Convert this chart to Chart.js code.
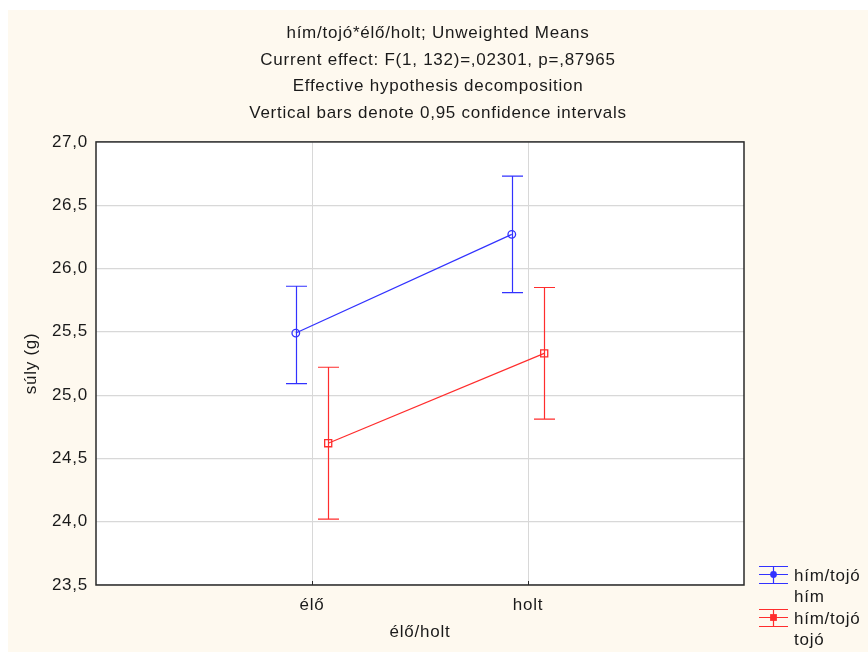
<!DOCTYPE html>
<html>
<head>
<meta charset="utf-8">
<script src="https://cdn.jsdelivr.net/npm/chart.js@4/dist/chart.umd.min.js"></script>
<style>
  html, body { margin: 0; padding: 0; background: #ffffff; }
  #wrap { width: 868px; height: 652px; position: relative; }
</style>
</head>
<body>
<div id="wrap"><canvas id="c" width="868" height="652"></canvas></div>
<script>
// ---- data ----
const categories = ['élő', 'holt'];
const seriesNames = ['hím', 'tojó'];
const himMean  = [25.49, 26.27];
const himLower = [25.09, 25.81];
const himUpper = [25.86, 26.73];
const tojoMean  = [24.62, 25.33];
const tojoLower = [24.02, 24.81];
const tojoUpper = [25.22, 25.85];
const titleLines = [
  'hím/tojó*élő/holt; Unweighted Means',
  'Current effect: F(1, 132)=,02301, p=,87965',
  'Effective hypothesis decomposition',
  'Vertical bars denote 0,95 confidence intervals'
];
const yAxisTitle = 'súly (g)';
const xAxisTitle = 'élő/holt';
const legendGroup = 'hím/tojó';

// ---- styling ----
const FONT = 'Arial, "Liberation Sans", sans-serif';
const FS = 17;
const SPACING = '0.75px';
const BLUE = 'rgb(50,50,255)';
const RED = 'rgb(255,45,45)';
const CREAM = '#fef9ef';
const GRID = '#d8d8d8';
const TEXT = '#1a1a1a';
const OFFSET = 0.075;   // horizontal dodge of the two series within a category
const CAP = 10.5;       // half width of error-bar caps in px

function pts(means, dodge) { return means.map((v, i) => ({ x: i + 1 + dodge, y: v })); }

const datasets = [
  { label: seriesNames[0], data: pts(himMean, -OFFSET), lower: himLower, upper: himUpper,
    borderColor: BLUE, backgroundColor: 'rgba(0,0,0,0)', pointBorderColor: BLUE,
    pointStyle: 'circle', pointRadius: 3.8, borderWidth: 1.2, pointBorderWidth: 1.3, showLine: true },
  { label: seriesNames[1], data: pts(tojoMean, OFFSET), lower: tojoLower, upper: tojoUpper,
    borderColor: RED, backgroundColor: 'rgba(0,0,0,0)', pointBorderColor: RED,
    pointStyle: 'rect', pointRadius: 5, borderWidth: 1.2, pointBorderWidth: 1.3, showLine: true }
];

const spacingPlugin = {
  id: 'spacing',
  beforeUpdate(chart) { chart.ctx.letterSpacing = SPACING; },
  beforeDraw(chart) { chart.ctx.letterSpacing = SPACING; }
};

const backgroundPlugin = {
  id: 'bg',
  beforeDraw(chart) {
    const { ctx, chartArea: a } = chart;
    ctx.save();
    ctx.fillStyle = '#ffffff';
    ctx.fillRect(0, 0, chart.width, chart.height);
    ctx.fillStyle = CREAM;
    ctx.fillRect(8, 10, chart.width - 8, chart.height - 10);
    ctx.fillStyle = '#ffffff';
    ctx.fillRect(a.left, a.top, a.right - a.left, a.bottom - a.top);
    ctx.restore();
  }
};

const errorBarPlugin = {
  id: 'errbars',
  beforeDatasetsDraw(chart) {
    const { ctx } = chart;
    const xs = chart.scales.x, ys = chart.scales.y;
    ctx.save();
    chart.data.datasets.forEach(ds => {
      ctx.strokeStyle = ds.borderColor;
      ctx.lineWidth = 1.2;
      ds.data.forEach((p, i) => {
        const x = Math.round(xs.getPixelForValue(p.x)) + 0.5;
        const yl = ys.getPixelForValue(ds.lower[i]);
        const yu = ys.getPixelForValue(ds.upper[i]);
        ctx.beginPath();
        ctx.moveTo(x, yu); ctx.lineTo(x, yl);
        ctx.moveTo(x - CAP, yu); ctx.lineTo(x + CAP, yu);
        ctx.moveTo(x - CAP, yl); ctx.lineTo(x + CAP, yl);
        ctx.stroke();
      });
    });
    ctx.restore();
  },
  afterDatasetsDraw(chart) {
    const { ctx, chartArea: a } = chart;
    ctx.save();
    ctx.strokeStyle = '#2a2a2a';
    ctx.lineWidth = 1.5;
    ctx.strokeRect(a.left, a.top, a.right - a.left, a.bottom - a.top);
    const xs = chart.scales.x;
    ctx.lineWidth = 1;
    categories.forEach((c, i) => {
      const x = Math.round(xs.getPixelForValue(i + 1)) + 0.5;
      ctx.beginPath(); ctx.moveTo(x, a.bottom - 4); ctx.lineTo(x, a.bottom); ctx.stroke();
    });
    ctx.restore();
  }
};

const legendPlugin = {
  id: 'customLegend',
  afterDraw(chart) {
    const { ctx } = chart;
    ctx.save();
    ctx.letterSpacing = SPACING;
    ctx.font = FS + 'px ' + FONT;
    ctx.textBaseline = 'middle';
    ctx.textAlign = 'left';
    const x0 = 759, x1 = 788, xm = 773.5, tx = 794;
    const rows = [575, 618];
    chart.data.datasets.forEach((ds, k) => {
      const y = rows[k];
      ctx.strokeStyle = ds.borderColor;
      ctx.fillStyle = ds.borderColor;
      ctx.lineWidth = 1.2;
      ctx.beginPath();
      ctx.moveTo(x0, y - 8.5); ctx.lineTo(x1, y - 8.5);
      ctx.moveTo(x0, y + 8.5); ctx.lineTo(x1, y + 8.5);
      ctx.moveTo(x0, y - 0.5); ctx.lineTo(x1, y - 0.5);
      ctx.moveTo(xm, y - 8.5); ctx.lineTo(xm, y + 8.5);
      ctx.stroke();
      ctx.beginPath();
      if (ds.pointStyle === 'circle') { ctx.arc(xm, y - 0.5, 3.4, 0, Math.PI * 2); ctx.fill(); }
      else { ctx.fillRect(xm - 3.4, y - 3.9, 6.8, 6.8); }
      ctx.fillStyle = TEXT;
      ctx.fillText(legendGroup, tx, y + 1);
      ctx.fillText(ds.label, tx, y + 22);
    });
    ctx.restore();
  }
};

new Chart(document.getElementById('c'), {
  type: 'scatter',
  data: { datasets },
  options: {
    responsive: false,
    animation: false,
    devicePixelRatio: 1,
    layout: { padding: { left: 8, right: 0, top: 10, bottom: 0 } },
    plugins: {
      legend: { display: false },
      tooltip: { enabled: false },
      title: {
        display: true,
        text: titleLines,
        color: TEXT,
        font: { family: FONT, size: FS, weight: 'normal', lineHeight: 1.565 },
        padding: { top: 10, bottom: 15.5 }
      }
    },
    scales: {
      x: {
        type: 'linear',
        min: 0, max: 3,
        afterFit(s) { s.height = 67; },
        afterBuildTicks(s) { s.ticks = [0, 1, 2, 3].map(v => ({ value: v })); },
        ticks: {
          autoSkip: false,
          maxRotation: 0,
          padding: 10,
          color: TEXT,
          font: { family: FONT, size: FS },
          callback: v => categories[v - 1] || ''
        },
        grid: {
          drawTicks: false,
          color: c => (c.tick && (c.tick.value === 1 || c.tick.value === 2)) ? GRID : 'rgba(0,0,0,0)',
          lineWidth: 1
        },
        border: { display: false },
        title: {
          display: true, text: xAxisTitle, color: TEXT,
          font: { family: FONT, size: FS }, padding: { top: 0, bottom: 9 }
        }
      },
      y: {
        min: 23.5, max: 27.0,
        afterFit(s) { s.width = 88; },
        ticks: {
          stepSize: 0.5,
          padding: 8,
          color: TEXT,
          font: { family: FONT, size: FS },
          callback: v => v.toFixed(1).replace('.', ',')
        },
        grid: { drawTicks: false, color: GRID, lineWidth: 1.2 },
        border: { display: false },
        title: {
          display: true, text: yAxisTitle, color: TEXT,
          font: { family: FONT, size: FS }, padding: { top: 13, bottom: 0 }
        }
      },
      legendSpace: {
        type: 'linear',
        position: 'right',
        afterFit(s) { s.width = 124; },
        ticks: { display: false },
        grid: { display: false, drawTicks: false },
        border: { display: false },
        title: { display: false }
      }
    }
  },
  plugins: [spacingPlugin, backgroundPlugin, errorBarPlugin, legendPlugin]
});
</script>
</body>
</html>
